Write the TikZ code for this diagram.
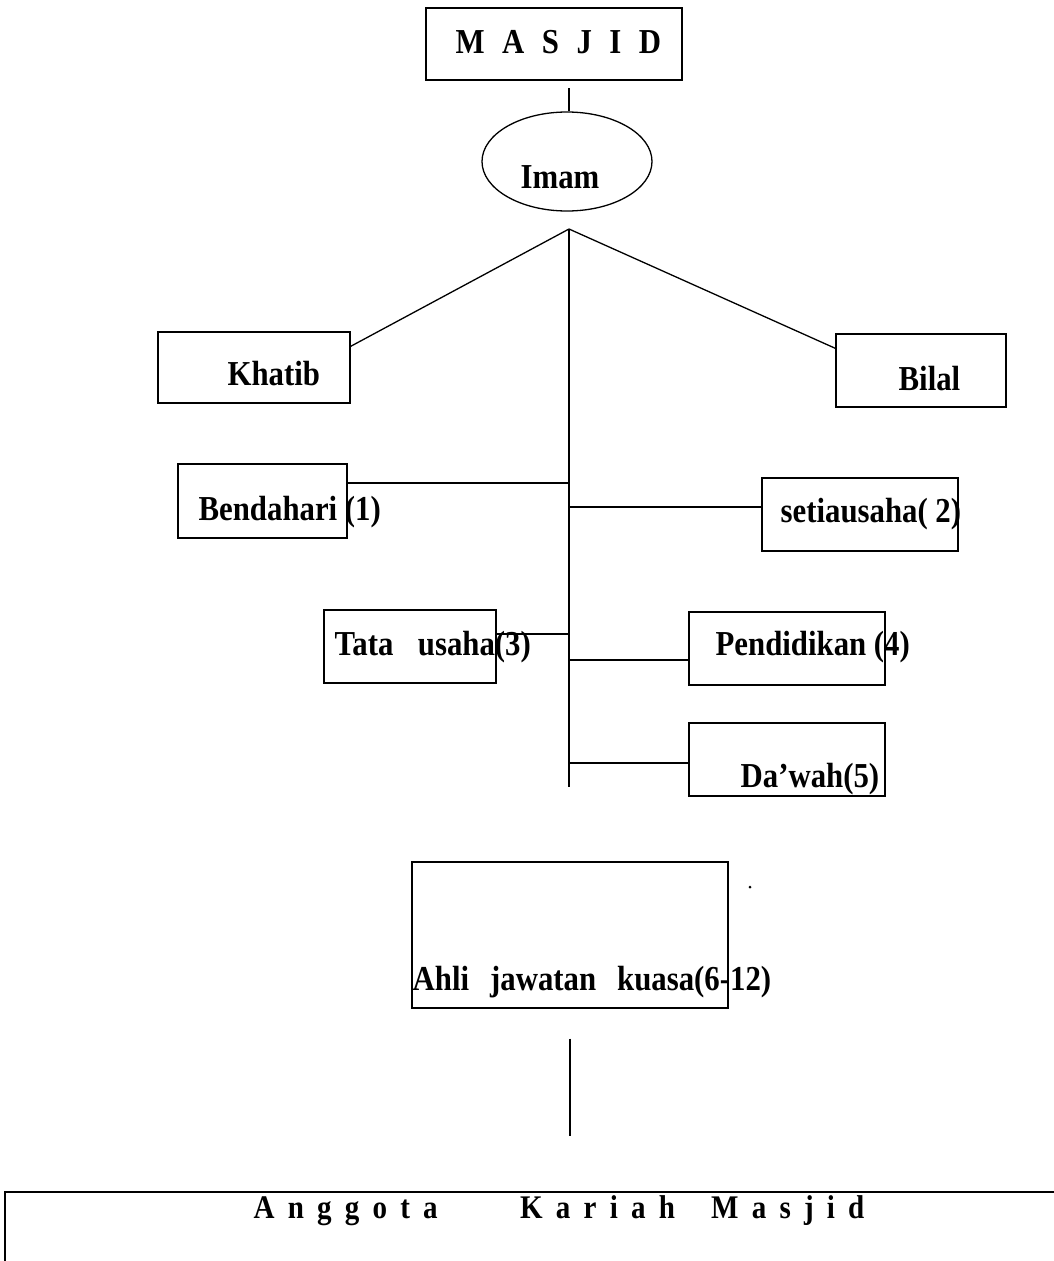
\documentclass[tikz,border=0pt]{standalone}
\usepackage{fontspec}
\setmainfont{Liberation Serif}[FakeStretch=0.88]
\usepackage{tikz}
\usetikzlibrary{shapes.geometric}

\begin{document}
\begin{tikzpicture}[x=1pt,y=-1pt,inner sep=0pt,line width=1.3pt,
    box/.style={draw,rectangle},
    lbl/.style={anchor=base west,font=\fontsize{35}{40}\selectfont\bfseries}]
\useasboundingbox (0,0) rectangle (1053,1261);
\draw (554, 44) node[box,minimum width=256,minimum height=72](masjid) {};
\draw (567, 161.5) node[draw,ellipse,minimum width=170,minimum height=99](imam) {};
\draw (254, 367.5) node[box,minimum width=192,minimum height=71](khatib) {};
\draw (921, 370.5) node[box,minimum width=170,minimum height=73](bilal) {};
\draw (262.5, 501) node[box,minimum width=169,minimum height=74](bendahari) {};
\draw (860, 514.5) node[box,minimum width=196,minimum height=73](setiausaha) {};
\draw (410, 646.5) node[box,minimum width=172,minimum height=73](tatausaha) {};
\draw (787, 648.5) node[box,minimum width=196,minimum height=73](pendidikan) {};
\draw (787, 759.5) node[box,minimum width=196,minimum height=73](dawah) {};
\draw (570, 935) node[box,minimum width=316,minimum height=146](ahli) {};
\draw (532.5, 1231) node[box,minimum width=1055,minimum height=78](kariah) {};
% labels
\draw (455, 53) node[lbl](masjidtxt) {\addfontfeatures{LetterSpace=50}MASJID};
\draw (520, 188) node[lbl](imamtxt) {Imam};
\draw (227, 385) node[lbl](khatibtxt) {Khatib};
\draw (898, 390) node[lbl](bilaltxt) {Bilal};
\draw (198, 520) node[lbl](bendaharitxt) {Bendahari (1)};
\draw (780, 522) node[lbl](setiausahatxt) {setiausaha( 2)};
\draw (334, 655) node[lbl](tatausahatxt) {Tata\hspace{0.7em}usaha(3)};
\draw (715, 655) node[lbl](pendidikantxt) {Pendidikan (4)};
\draw (740, 787) node[lbl](dawahtxt) {Da’wah(5)};
\draw (412, 990) node[lbl](ahlitxt) {Ahli\hspace{0.6em}jawatan\hspace{0.6em}kuasa(6-12)};
\draw (253, 1218) node[lbl,font=\fontsize{33}{38}\selectfont\bfseries](kariahtxt) {\addfontfeatures{LetterSpace=40}Anggota\hspace{2.5em}Kariah\hspace{1.1em}Masjid};
% spine and branch points
\coordinate (m1) at (569, 88);
\coordinate (apex) at (569, 229);
\coordinate (spineend) at (569, 787);
\coordinate (j1) at (569, 483);
\coordinate (j2) at (569, 507);
\coordinate (j3) at (569, 634);
\coordinate (j4) at (569, 660);
\coordinate (j5) at (569, 763);
\draw (m1) -- (m1 |- imam.north);
\draw (apex) -- ([yshift=-15pt]khatib.north east);
\draw (apex) -- ([yshift=-15pt]bilal.north west);
\draw (apex) -- (spineend);
\draw (j1) -- (j1 -| bendahari.east);
\draw (j2) -- (j2 -| setiausaha.west);
\draw (j3) -- (j3 -| tatausaha.east);
\draw (j4) -- (j4 -| pendidikan.west);
\draw (j5) -- (j5 -| dawah.west);
\draw ([yshift=-30pt]ahli.south) -- ([yshift=-127pt]ahli.south);
\fill (750, 887) circle (1.5);
\end{tikzpicture}
\end{document}
